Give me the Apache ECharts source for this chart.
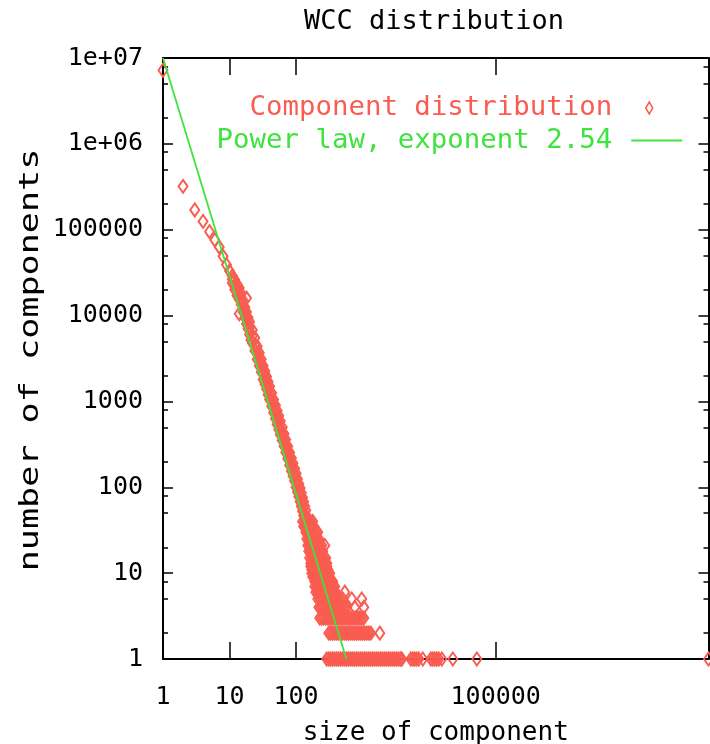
<!DOCTYPE html>
<html><head><meta charset="utf-8">
<script src="https://cdn.jsdelivr.net/npm/echarts@6/dist/echarts.min.js"></script>
<style>html,body{margin:0;padding:0;background:#fff}#c{width:710px;height:744px}</style>
</head><body><div id="c"></div><script>
const MONO = '"DejaVu Sans Mono", "Liberation Mono", monospace';
const RED = '#f95c50';
const GREEN = '#3fe33f';

const titleText = 'WCC distribution';
const xName = 'size of component';
const yName = 'number of components';
const legendNames = ['  Component distribution', 'Power law, exponent 2.54'];

const xMin = 1;
const xMax = 158000000;
const xTickValues = [1, 10, 100, 100000];
const yTickValues = [1, 10, 100, 1000, 10000, 100000, 1000000, 10000000];
const yTickLabels = ['1', '10', '100', '1000', '10000', '100000', '1e+06', '1e+07'];
const yMinorValues = [2, 5, 8, 20, 50, 80, 200, 500, 800, 2000, 5000, 8000, 20000, 50000, 80000,
  200000, 500000, 800000, 2000000, 5000000, 8000000];

// power-law fit: endpoints of the straight line in log-log space
const fitSizes = [1, 570];
const fitCounts = [10000000, 1];

// component distribution, sizes 1..10
const headSizes = [1, 2, 3, 4, 5, 6, 7, 8, 9, 10];
const headCounts = [7200000, 320000, 170000, 125000, 95000, 76000, 63000, 49000, 39000, 33000];

// dense band, sizes 11..140 (three readings per size)
const bandSizes = [11, 12, 13, 14, 15, 16, 17, 18, 19, 20, 22, 24, 26, 28, 30, 32, 34, 36, 38, 40,
  43, 46, 49, 52, 55, 58, 62, 66, 70, 75, 80, 85, 90, 95, 100, 105, 110, 115, 120, 125, 130, 135, 140];
const bandUpper = [29000, 26000, 23000, 21000, 18000, 15000, 12500, 11000, 9500, 8500, 6800, 5500, 4400, 3700, 3100, 2600, 2250, 1950, 1700, 1500,
  1250, 1050, 900, 780, 680, 590, 500, 420, 360, 300, 255, 220, 190, 165, 145, 125, 110, 98, 86, 76, 68, 60, 54];
const bandMid = [26500, 23000, 20000, 18000, 15500, 13000, 11000, 9400, 8200, 7200, 5800, 4600, 3700, 3100, 2600, 2150, 1900, 1650, 1450, 1250,
  1050, 880, 750, 650, 565, 490, 420, 355, 300, 255, 215, 185, 160, 140, 120, 105, 93, 82, 72, 64, 57, 50, 45];
const bandLower = [24000, 20000, 17000, 15500, 13500, 11000, 9500, 8000, 7000, 6000, 4800, 3900, 3100, 2600, 2200, 1800, 1600, 1400, 1200, 1050,
  880, 740, 630, 540, 470, 410, 350, 300, 255, 215, 180, 155, 135, 118, 100, 88, 78, 68, 60, 53, 47, 42, 37];

// scattered single readings
const outlierSizes = [14, 18, 21, 270];
const outlierCounts = [10500, 16000, 5200, 21];

// low-count rows: sizes observed at each count level
const rowCounts = [40, 35, 30, 25, 21, 18, 15, 13, 12, 11, 10, 9, 8, 7, 6, 5, 4, 3, 2, 1];
const rowSizes = [
  [125, 135, 145, 155, 165, 178],
  [130, 140, 150, 160, 172, 185],
  [140, 150, 160, 172, 185, 198, 212],
  [145, 155, 166, 178, 191, 205, 220],
  [150, 160, 172, 185, 198, 212, 227, 243],
  [155, 166, 178, 191, 205, 220, 235, 252],
  [160, 172, 185, 198, 212, 227, 243, 261, 280],
  [166, 178, 191, 205, 220, 235, 252, 270, 290],
  [166, 178, 191, 205, 220, 235, 252, 270, 290],
  [172, 185, 198, 212, 227, 243, 261, 280, 300],
  [172, 185, 198, 212, 227, 243, 261, 280, 300, 321],
  [178, 191, 205, 220, 235, 252, 270, 290, 310],
  [191, 205, 220, 235, 252, 270, 290, 310, 332, 356],
  [191, 205, 220, 235, 252, 270, 290, 310, 332, 356, 382],
  [198, 212, 227, 243, 261, 280, 300, 321, 344, 369, 395, 540],
  [212, 227, 243, 261, 280, 300, 321, 344, 369, 395, 424, 454, 504, 688, 972],
  [220, 235, 252, 270, 290, 310, 332, 356, 382, 409, 438, 470, 504, 540, 579, 763, 1042],
  [227, 243, 261, 280, 300, 321, 344, 369, 395, 424, 454, 487, 521, 559, 599, 642, 688, 738, 790, 850, 908, 972, 1042],
  [310, 332, 356, 382, 409, 438, 470, 504, 540, 579, 620, 665, 712, 763, 818, 877, 939, 1007, 1079, 1157, 1239, 1328, 1814],
  [289, 310, 333, 356, 382, 409, 439, 470, 504, 540, 579, 620, 665, 712, 763, 818, 877, 939, 1007, 1079, 1157, 1239, 1328,
   1424, 1526, 1636, 1752, 1880, 2013, 2156, 2311, 2480, 2655, 2850, 3050, 3270, 3502, 3750, 3886,
   5306, 5700, 6095, 6500, 7000, 8042, 10607, 11300, 12180, 13000, 13990, 15525, 22720, 52160, 158000000]
];

const scatterData = [];
headSizes.forEach((s, i) => scatterData.push([s, headCounts[i]]));
bandSizes.forEach((s, i) => {
  scatterData.push([s, bandUpper[i]]);
  scatterData.push([s, bandMid[i]]);
  scatterData.push([s, bandLower[i]]);
});
outlierSizes.forEach((s, i) => scatterData.push([s, outlierCounts[i]]));
rowCounts.forEach((c, i) => rowSizes[i].forEach(s => scatterData.push([s, c])));
const fitData = fitSizes.map((s, i) => [s, fitCounts[i]]);

const axisLineStyle = { color: '#000', width: 2 };
function xAxisDef(pos, main) {
  return {
    type: 'log', logBase: 10, min: xMin, max: xMax, position: pos,
    axisLine: { show: true, lineStyle: axisLineStyle },
    splitLine: { show: false }, minorTick: { show: false },
    axisTick: { show: true, inside: true, length: 17, lineStyle: { color: '#000', width: 1.5 }, customValues: xTickValues },
    axisLabel: main ? {
      show: true, customValues: xTickValues, formatter: v => String(Math.round(v)),
      fontFamily: MONO, fontSize: 25, color: '#000', margin: 26
    } : { show: false },
    name: main ? xName : '', nameLocation: 'middle', nameGap: 61,
    nameTextStyle: { fontFamily: MONO, fontSize: 26, color: '#000' }
  };
}
function yAxisDef(pos, main, minor) {
  return {
    type: 'log', logBase: 10, min: 1, max: 10000000, position: pos,
    axisLine: { show: !minor, lineStyle: axisLineStyle },
    splitLine: { show: false }, minorTick: { show: false },
    axisTick: { show: true, inside: true, length: minor ? 5 : 10, lineStyle: { color: '#000', width: 1.5 },
      customValues: minor ? yMinorValues : yTickValues },
    axisLabel: main ? {
      show: true, customValues: yTickValues,
      formatter: v => yTickLabels[Math.round(Math.log10(v))],
      fontFamily: MONO, fontSize: 25, color: '#000', margin: 20
    } : { show: false }
  };
}

const chart = echarts.init(document.getElementById('c'), null, { renderer: 'canvas' });
chart.setOption({
  animation: false,
  backgroundColor: '#fff',
  title: {
    text: titleText, left: 304, top: 8, padding: 0,
    textStyle: { fontFamily: MONO, fontSize: 27, fontWeight: 'normal', color: '#000' }
  },
  grid: { left: 163, top: 58, right: 1.5, bottom: 85, containLabel: false, outerBoundsMode: 'none' },
  legend: {
    orient: 'vertical', right: 27, top: 94, align: 'right', selectedMode: false, padding: 0,
    itemWidth: 51, itemHeight: 14, itemGap: 6,
    textStyle: { fontFamily: MONO, fontSize: 27.4, lineHeight: 27, padding: [0, 14, 0, 0] },
    data: [
      { name: legendNames[0], textStyle: { color: RED },
        icon: 'path://M0,0 M51,14 M18,1.5 L21.5,7.5 L18,13.5 L14.5,7.5 Z',
        itemStyle: { color: 'rgba(255,255,255,0)', borderColor: RED, borderWidth: 1.5 } },
      { name: legendNames[1], textStyle: { color: GREEN },
        icon: 'path://M0,0 M51,14 M0,6.1 L51,6.1 L51,7.9 L0,7.9 Z',
        itemStyle: { color: GREEN, borderWidth: 0 } }
    ]
  },
  xAxis: [xAxisDef('bottom', true), xAxisDef('top', false)],
  yAxis: [yAxisDef('left', true, false), yAxisDef('right', false, false),
          yAxisDef('left', false, true), yAxisDef('right', false, true)],
  graphic: [{
    type: 'text', x: 31, y: 360, rotation: Math.PI / 2, scaleX: 1.35,
    style: { text: yName, font: '26px "DejaVu Sans Mono"', fill: '#000', align: 'center', verticalAlign: 'middle' }
  }],
  series: [
    {
      name: legendNames[0], type: 'scatter', xAxisIndex: 0, yAxisIndex: 0,
      symbol: 'diamond', symbolSize: [9, 13], clip: false,
      itemStyle: { color: 'rgba(255,255,255,0)', borderColor: RED, borderWidth: 2, opacity: 1 },
      data: scatterData, z: 2
    },
    {
      name: legendNames[1], type: 'line', xAxisIndex: 0, yAxisIndex: 0,
      symbol: 'none', showSymbol: false,
      lineStyle: { color: GREEN, width: 1.8 }, itemStyle: { color: GREEN },
      data: fitData, z: 3
    }
  ]
});
</script></body></html>
